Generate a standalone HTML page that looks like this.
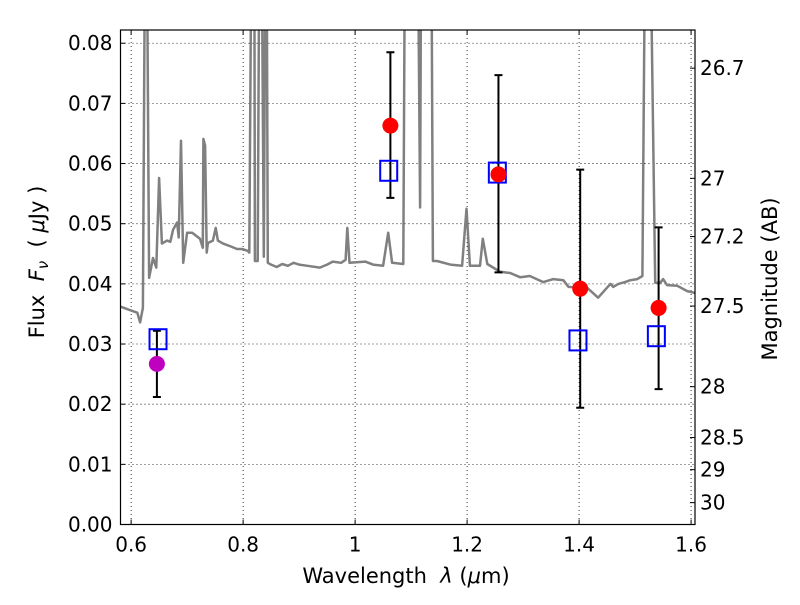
<!DOCTYPE html>
<html><head><meta charset="utf-8"><style>
body{margin:0;background:#fff;}
svg text{font-family:"DejaVu Sans","Liberation Sans",sans-serif;fill:#000;white-space:pre;}
</style></head><body>
<svg id="chart" width="800" height="600" viewBox="0 0 800 600" xmlns="http://www.w3.org/2000/svg">
<defs><clipPath id="clip"><rect x="120.5" y="30" width="574.5" height="494.5"/></clipPath></defs>
<g id="grid"></g>
<g id="plot" clip-path="url(#clip)"></g>
<rect x="120.5" y="30" width="574.5" height="494.5" fill="none" stroke="#000" stroke-width="1.2"/>
<g id="axes"></g>
<text x="406" y="583" font-size="21" text-anchor="middle">Wavelength  <tspan font-style="italic">λ</tspan> (<tspan font-style="italic">μ</tspan>m)</text>
<text transform="translate(44,262) rotate(-90)" font-size="21" text-anchor="middle">Flux  <tspan font-style="italic">F<tspan font-size="15" dy="4">ν</tspan></tspan><tspan dy="-4">  ( </tspan><tspan font-style="italic">μ</tspan>Jy )</text>
<text transform="translate(777,279) rotate(-90)" font-size="21" text-anchor="middle">Magnitude (AB)</text>
</svg>
<script>
const xTicks=[0.6,0.8,1.0,1.2,1.4,1.6];
const xTickLabels=["0.6","0.8","1","1.2","1.4","1.6"];
const yTicks=[0,0.01,0.02,0.03,0.04,0.05,0.06,0.07,0.08];
const yTickLabels=["0.00","0.01","0.02","0.03","0.04","0.05","0.06","0.07","0.08"];
const magTicks=[26.7,27,27.2,27.5,28,28.5,29,30];
const magTickLabels=["26.7","27","27.2","27.5","28","28.5","29","30"];
const specWave=[0.581,0.611,0.616,0.621,0.625,0.628,0.632,0.639,0.645,0.650,0.655,0.664,0.670,0.675,0.682,0.685,0.689,0.693,0.700,0.709,0.723,0.728,0.729,0.732,0.735,0.737,0.746,0.751,0.755,0.764,0.776,0.789,0.798,0.808,0.811,0.815,0.820,0.821,0.826,0.829,0.833,0.837,0.840,0.842,0.844,0.850,0.860,0.870,0.880,0.890,0.900,0.915,0.937,0.950,0.960,0.975,0.983,0.986,0.990,1.018,1.032,1.050,1.059,1.066,1.086,1.089,1.112,1.116,1.118,1.136,1.139,1.146,1.170,1.191,1.199,1.205,1.223,1.228,1.236,1.259,1.277,1.295,1.312,1.336,1.354,1.372,1.381,1.415,1.434,1.456,1.461,1.470,1.482,1.491,1.504,1.513,1.518,1.527,1.536,1.545,1.550,1.557,1.575,1.593,1.607];
const specFlux=[0.0362,0.0352,0.0336,0.0360,0.100,0.100,0.0410,0.0443,0.0427,0.0576,0.0467,0.0472,0.0470,0.0490,0.0502,0.0477,0.0638,0.0435,0.0485,0.0485,0.0475,0.0460,0.0641,0.0630,0.0452,0.0468,0.0472,0.0493,0.0472,0.0467,0.0463,0.0458,0.0458,0.0455,0.0452,0.100,0.100,0.0438,0.0438,0.100,0.100,0.0445,0.100,0.100,0.0435,0.0432,0.0428,0.0433,0.0430,0.0435,0.0432,0.0430,0.0427,0.0432,0.0437,0.0435,0.0440,0.0493,0.0435,0.0437,0.0432,0.0430,0.0485,0.0435,0.0433,0.100,0.100,0.0527,0.100,0.100,0.0438,0.0438,0.0432,0.0430,0.0525,0.0430,0.0430,0.0475,0.0433,0.0420,0.0418,0.0411,0.0413,0.0403,0.0408,0.0406,0.0395,0.0393,0.0377,0.0400,0.0395,0.0400,0.0403,0.0406,0.0408,0.0413,0.100,0.100,0.0402,0.0402,0.0408,0.0398,0.0397,0.0388,0.0385];
const obsWave=[0.646,1.063,1.256,1.402,1.542];
const obsFlux=[0.0267,0.0663,0.0582,0.0392,0.0360];
const obsLow=[0.0212,0.0543,0.0419,0.0194,0.0225];
const obsHigh=[0.0322,0.0785,0.0747,0.0590,0.0494];
const obsColor=["#bf00bf","#ff0000","#ff0000","#ff0000","#ff0000"];
const modelWave=[0.648,1.060,1.254,1.398,1.538];
const modelFlux=[0.0308,0.0588,0.0585,0.0306,0.0313];

const X0=120.5,X1=695,Y0=524.5,Y1=30;
const xmin=0.581,xmax=1.607,ymin=0,ymax=0.0822;
const sx=v=>X0+(v-xmin)/(xmax-xmin)*(X1-X0);
const sy=v=>Y0-(v-ymin)/(ymax-ymin)*(Y0-Y1);
const NS="http://www.w3.org/2000/svg";
function mk(tag,attrs,parent){const e=document.createElementNS(NS,tag);for(const k in attrs)e.setAttribute(k,attrs[k]);parent.appendChild(e);return e;}
const grid=document.getElementById('grid'),plot=document.getElementById('plot'),axes=document.getElementById('axes');

xTicks.forEach((t,i)=>{
  const x=sx(t);
  const g=mk('line',{x1:x,x2:x,y1:Y1,y2:Y0,stroke:'#000','stroke-width':0.8,'stroke-dasharray':'1,3'},grid);
  
  
  const tk=mk('line',{x1:x,x2:x,y1:Y0,y2:Y0-5,stroke:'#000'},axes);
  
  
  const tk2=mk('line',{x1:x,x2:x,y1:Y1,y2:Y1+5,stroke:'#000'},axes);
  
  
  const tx=mk('text',{x:x,y:Y0+27,'font-size':20,'text-anchor':'middle'},axes);
  tx.textContent=xTickLabels[i];
  
  
});
yTicks.forEach((t,i)=>{
  const y=sy(t);
  const g=mk('line',{x1:X0,x2:X1,y1:y,y2:y,stroke:'#000','stroke-width':0.8,'stroke-dasharray':'1,3'},grid);
  
  
  const tk=mk('line',{x1:X0,x2:X0+5,y1:y,y2:y,stroke:'#000'},axes);
  
  
  const tx=mk('text',{x:X0-8,y:y+7,'font-size':20,'text-anchor':'end'},axes);
  tx.textContent=yTickLabels[i];
  
  
});
magTicks.forEach((m,i)=>{
  const f=Math.pow(10,(23.9-m)/2.5);
  const y=sy(f);
  const tk=mk('line',{x1:X1-5,x2:X1,y1:y,y2:y,stroke:'#000'},axes);
  
  
  const tx=mk('text',{x:X1+5,y:y+7,'font-size':20,'text-anchor':'start'},axes);
  tx.textContent=magTickLabels[i];
  
  
});
const d=specWave.map((w,i)=>(i?'L':'M')+sx(w).toFixed(1)+','+sy(specFlux[i]).toFixed(1)).join(' ');
const sp=mk('path',{d:d,fill:'none',stroke:'#808080','stroke-width':2.5,'stroke-linejoin':'round'},plot);


obsWave.forEach((w,i)=>{
  const x=sx(w);
  const e=mk('path',{d:`M${x},${sy(obsLow[i])}V${sy(obsHigh[i])}M${x-4},${sy(obsLow[i])}H${x+4}M${x-4},${sy(obsHigh[i])}H${x+4}`,stroke:'#000','stroke-width':2,fill:'none'},plot);
  
  
});
modelWave.forEach((w,i)=>{
  const r=mk('rect',{x:sx(w)-8.5,y:sy(modelFlux[i])-10,width:17,height:20,fill:'none',stroke:'#0000ff','stroke-width':2},plot);
  
  
});
obsWave.forEach((w,i)=>{
  const c=mk('circle',{cx:sx(w),cy:sy(obsFlux[i]),r:8,fill:obsColor[i]},plot);
  
  
});
</script>
</body></html>
